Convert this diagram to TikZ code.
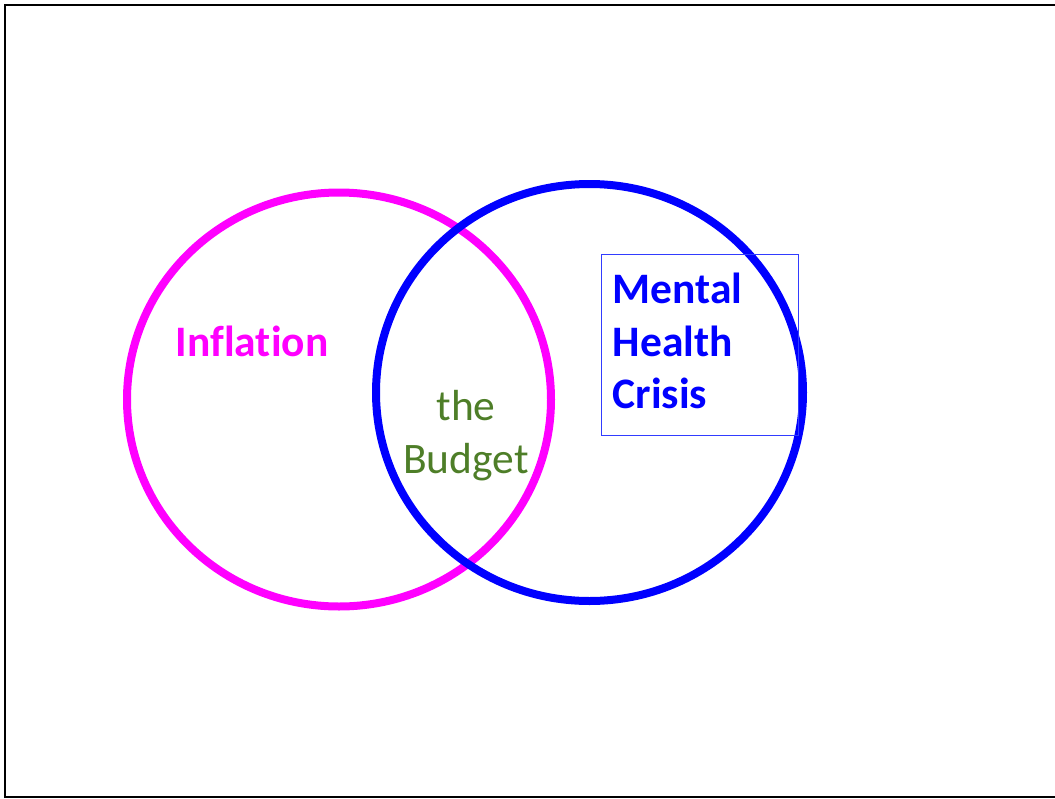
\documentclass[tikz,border=0pt]{standalone}
\usepackage{fontspec}
\setmainfont{Carlito}[Ligatures=CommonOff]
\definecolor{infl}{RGB}{255,0,255}
\definecolor{mhc}{RGB}{0,0,255}
\definecolor{budget}{RGB}{78,126,40}
\definecolor{boxline}{RGB}{50,60,255}
\begin{document}
\begin{tikzpicture}[x=1pt,y=-1pt,
  ring/.style={line width=8pt},
  label/.style={font=\fontsize{43.5}{52.5}\selectfont, inner sep=0pt},
  boldlabel/.style={label, font=\fontsize{43.5}{52.5}\selectfont\bfseries},
  frameline/.style={line width=2.2pt, draw=black}]
\useasboundingbox (0,0) rectangle (1055,798);
% page frame (right edge lies outside the page)
\draw[frameline] (5,5) rectangle (1062,797);
% the two rings
\draw[ring, draw=infl] (339,399.5) ellipse [x radius=212pt, y radius=207pt];
\draw[ring, draw=mhc] (589.5,392.5) ellipse [x radius=213.5pt, y radius=208.5pt];
% labels (base anchor of a multi-line node is its last line)
\node[boldlabel, text=infl, anchor=base] (inflation) at (252,356) {Inflation};
\node[label, text=budget, align=center, anchor=base] (budget) at (466,473) {the\\Budget};
\node[draw=boxline, line width=0.9pt, minimum width=197pt, minimum height=181pt, anchor=north west, inner sep=0pt] (mhcbox) at (601,253.5) {};
\node[boldlabel, text=mhc, align=left, anchor=base west] (mental) at (612.5,408.5) {Mental\\Health\\Crisis};
\end{tikzpicture}
\end{document}
